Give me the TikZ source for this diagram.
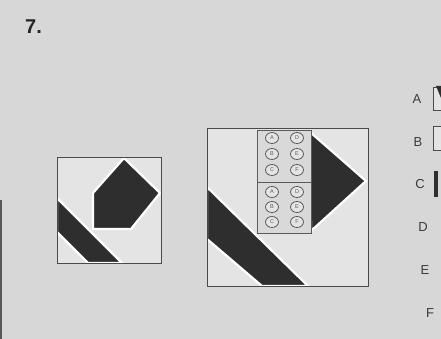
\documentclass[tikz,border=0pt]{standalone}
\usepackage{fontspec}
\setmainfont{Liberation Sans}
\begin{document}
\begin{tikzpicture}[x=1pt,y=-1pt,
  frame/.style={draw=framegray,line width=0.9pt,fill=boxgray},
  solid shape/.style={fill=darkfill,draw=white,line width=2.2pt,line join=miter},
  bubble/.style={draw=bubblegray,line width=0.8pt},
  bubtxt/.style={font=\fontsize{5.5}{5.5}\selectfont,text=bubblegray,inner sep=0pt},
  optlabel/.style={font=\fontsize{13}{13}\selectfont,text=labelgray,inner sep=0pt}]
\definecolor{pagegray}{HTML}{D6D7D6}
\definecolor{boxgray}{HTML}{E3E4E3}
\definecolor{framegray}{HTML}{4A4A4A}
\definecolor{darkfill}{HTML}{2E2E2E}
\definecolor{bubblegray}{HTML}{5A5A5A}
\definecolor{labelgray}{HTML}{3A3A3A}
\useasboundingbox (0,0) rectangle (441,339);
\fill[pagegray] (0,0) rectangle (441,339);
\fill[darkfill!80] (0,200) rectangle (2,339);
% title
\node[font=\fontsize{20}{20}\selectfont\bfseries,text=black!85,anchor=base west,inner sep=0pt] (num) at (25,34) {7.};
% small box
\draw[frame] (57,157) rectangle (161,263);
\begin{scope}
\clip (57,157) rectangle (161,263);
\draw[solid shape] (93,193) -- (124,158) -- (160,193) -- (131,229) -- (93,229) -- cycle;
\draw[solid shape] (57,198) -- (122,263) -- (88,263) -- (57,232) -- cycle;
\end{scope}
\draw[draw=framegray,line width=0.9pt] (57,157) rectangle (161,263);
% large box
\draw[frame] (207,128) rectangle (368,286);
\begin{scope}
\clip (207,128) rectangle (368,286);
\draw[solid shape] (207,187) -- (308,286) -- (262,286) -- (207,239) -- cycle;
\draw[solid shape] (310,132) -- (366,181) -- (311,231) -- cycle;
\end{scope}
% answer sheet
\draw[draw=bubblegray,line width=0.7pt,fill=boxgray!95!black] (257,130) rectangle (311,233);
\draw[draw=bubblegray,line width=0.6pt] (257,182) -- (311,182);
\foreach \y/\a/\b [count=\i] in {138/A/D,154/B/E,170/C/F,192/A/D,207/B/E,222/C/F}{
  \draw[bubble,fill=boxgray] (272,\y) ellipse (6.5 and 5.5);
  \draw[bubble,fill=boxgray] (297,\y) ellipse (6.5 and 5.5);
  \node[bubtxt] (l\i) at (272,\y) {\a};
  \node[bubtxt] (r\i) at (297,\y) {\b};
}
\draw[draw=framegray,line width=0.9pt] (207,128) rectangle (368,286);
% option labels
\node[optlabel] (oa) at (417,99) {A};
\node[optlabel] (ob) at (418,142) {B};
\node[optlabel] (oc) at (420,184) {C};
\node[optlabel] (od) at (423,227) {D};
\node[optlabel] (oe) at (425,270) {E};
\node[optlabel] (of) at (430,313) {F};
% partial option boxes
\fill[boxgray] (433,87) rectangle (441,110);
\draw[framegray,line width=0.9pt] (441,87) -- (433,87) -- (433,110) -- (441,110);
\fill[darkfill] (436,86) -- (441,86) -- (441,98) -- cycle;
\fill[boxgray] (433,126) rectangle (441,150);
\draw[framegray,line width=0.9pt] (441,126) -- (433,126) -- (433,150) -- (441,150);
\fill[darkfill] (434,171) rectangle (438,197);
\end{tikzpicture}
\end{document}
